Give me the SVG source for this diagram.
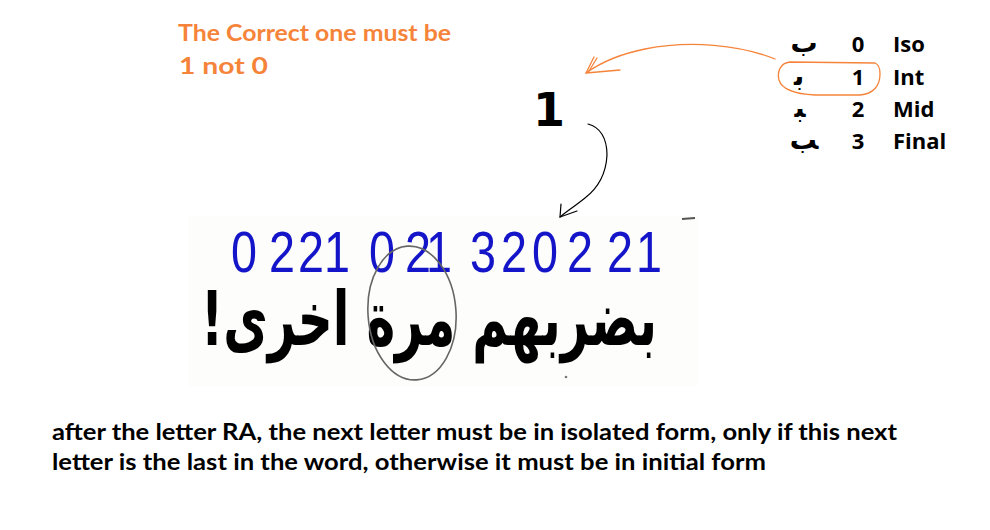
<svg xmlns="http://www.w3.org/2000/svg" width="990" height="530" viewBox="0 0 990 530">
<style>
.orange{font-family:Lato,"Open Sans",sans-serif;font-weight:bold;font-size:23px;fill:#F5843A}
.note{font-family:Lato,"Open Sans",sans-serif;font-weight:bold;font-size:22px;fill:#000}
.tbl{font-family:"Open Sans",Lato,sans-serif;font-weight:bold;font-size:22px;fill:#000}
.ar{font-family:"DejaVu Sans",sans-serif;font-weight:bold;font-size:27px;fill:#000}
.dig{font-family:"Liberation Sans",Arial,sans-serif;font-size:57px;fill:#1414C8;text-anchor:middle}
.arbig{font-family:"DejaVu Sans",sans-serif;font-weight:bold;font-size:56px;fill:#000}
.pen{fill:none;stroke-linecap:round;stroke-linejoin:round}
</style>
<rect width="990" height="530" fill="#fff"/>
<g id="pasted-image">
<rect x="188" y="216" width="510" height="170" fill="#fdfdfb"/>
<line x1="682" y1="219" x2="695" y2="218" stroke="#555" stroke-width="2"/>
<circle cx="566" cy="377" r="1.3" fill="#777"/>
</g>
<g id="note-correct">
<text class="orange" x="178" y="41" textLength="273" lengthAdjust="spacingAndGlyphs">The Correct one must be</text>
<text class="orange" x="179" y="74" textLength="89" lengthAdjust="spacingAndGlyphs">1 not 0</text>
</g>
<g id="forms-table">
<text class="ar" x="804" y="52" text-anchor="middle">&#xFE8F;</text>
<text class="tbl" x="858" y="52" text-anchor="middle">0</text>
<text class="tbl" x="893" y="52">Iso</text>
<text class="ar" x="799" y="85" text-anchor="middle">&#xFE91;</text>
<text class="tbl" x="858" y="85" text-anchor="middle">1</text>
<text class="tbl" x="893" y="85">Int</text>
<text class="ar" x="800" y="117" text-anchor="middle">&#xFE92;</text>
<text class="tbl" x="858" y="117" text-anchor="middle">2</text>
<text class="tbl" x="893" y="117">Mid</text>
<text class="ar" x="804" y="149" text-anchor="middle">&#xFE90;</text>
<text class="tbl" x="858" y="149" text-anchor="middle">3</text>
<text class="tbl" x="893" y="149">Final</text>
</g>
<g id="big-one">
<text x="549" y="126" text-anchor="middle" font-family="DejaVu Sans,sans-serif" font-weight="bold" font-size="46" fill="#000">1</text>
</g>
<g id="digits" transform="scale(0.82 1)">
<text class="dig" x="297.6 343.9 379.3 411 465.9 509.8 535.4 589 626.8 664.6 707.3 756.1 791.5" y="272">0221021320221</text>
</g>
<g id="arabic-sentence" transform="translate(0 345) scale(1 1.35) translate(0 -345)">
<text class="arbig" x="429" y="345" text-anchor="middle" direction="rtl" textLength="456" lengthAdjust="spacingAndGlyphs">بضربهم مرة اخرى!</text>
</g>
<g id="connectors">
<path class="pen" d="M775,59 C740,45 690,40 645,49 C620,54 600,63 586,73" stroke="#F5843A" stroke-width="1.3"/>
<path class="pen" d="M620,70 L586,73 L594,57 M589,71 L597,58" stroke="#F5843A" stroke-width="1.3"/>
<path class="pen" d="M875,63 L790,62 C780,63 777,72 779,80 C782,90 795,94 815,95 L860,95 C874,94 880,85 880,74 C880,68 878,64 875,63" stroke="#F5843A" stroke-width="1.3"/>
<path class="pen" d="M588,124 C600,127 607,138 607,155 C606,175 598,188 585,198 C575,206 566,212 560,217" stroke="#000" stroke-width="1.2"/>
<path class="pen" d="M561,204 L560,217 L577,211" stroke="#000" stroke-width="1.2"/>
<ellipse cx="412" cy="313" rx="44" ry="67" transform="rotate(-4 412 313)" fill="none" stroke="#666" stroke-width="1.6"/>
</g>
<g id="explanation">
<text class="note" x="52" y="440" textLength="845" lengthAdjust="spacingAndGlyphs">after the letter RA, the next letter must be in isolated form, only if this next</text>
<text class="note" x="52" y="470" textLength="714" lengthAdjust="spacingAndGlyphs">letter is the last in the word, otherwise it must be in initial form</text>
</g>
</svg>
